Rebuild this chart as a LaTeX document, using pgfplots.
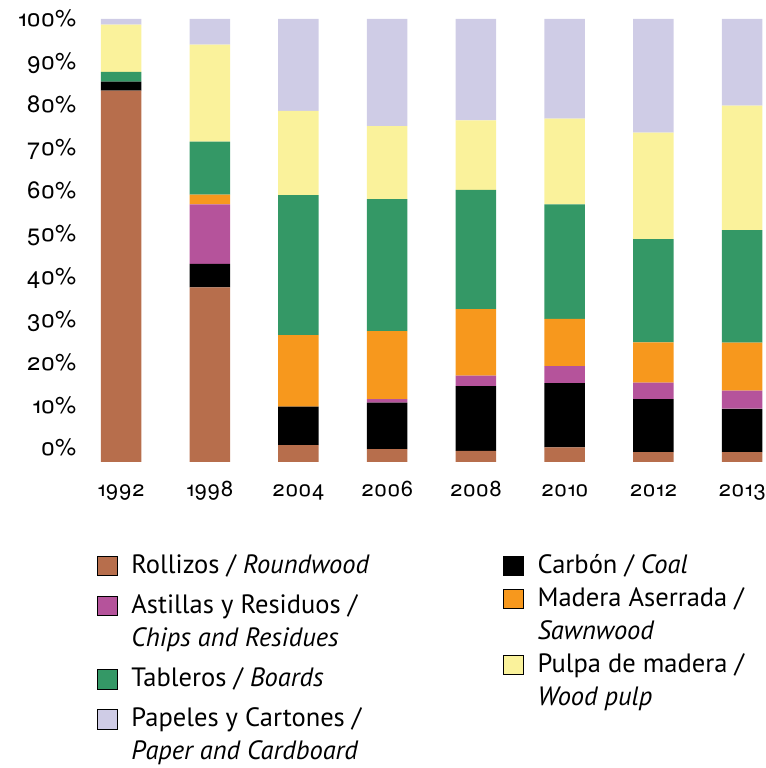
\documentclass[border=0pt]{standalone}
\usepackage{fontspec}
\setmainfont{PT Sans}
\newfontfamily\tickfont{TeX Gyre Heros}[Numbers=OldStyle]
\usepackage{pgfplots}
\usepackage{pgfplotstable}
\pgfplotsset{compat=1.18}
\definecolor{cRoll}{HTML}{B76E4C}
\definecolor{cCarb}{HTML}{000000}
\definecolor{cAst}{HTML}{B5539B}
\definecolor{cMad}{HTML}{F7981D}
\definecolor{cTab}{HTML}{349866}
\definecolor{cPul}{HTML}{FAF29B}
\definecolor{cPap}{HTML}{CFCCE6}
\pgfplotstableread{
x Roll Carb Ast Mad Tab Pul Pap
0 83.8 2.0 0.0 0.0 2.2 10.7 1.3
1 39.4 5.3 13.4 2.2 12.0 21.9 5.8
2 3.8 8.7 0.0 16.1 31.6 19.0 20.8
3 2.9 10.5 0.8 15.3 29.8 16.5 24.2
4 2.5 14.6 2.4 15.0 26.9 15.7 22.9
5 3.3 14.5 3.8 10.7 25.8 19.4 22.5
6 2.2 12.0 3.7 9.1 23.3 24.0 25.7
7 2.2 9.8 4.1 10.8 25.4 28.1 19.6
}\data
\newcommand\fst{\rule{0pt}{10bp}}
\newcommand\lst{\rule[-4bp]{0pt}{4bp}}
\newcommand\Y[1]{\mbox{\tickfont\fontsize{11.9}{13}\selectfont #1\%}}
\newcommand\X[1]{\mbox{\tickfont\fontsize{10.9}{12}\selectfont #1}}
\pgfplotsset{
  sq/.style={legend image code/.code={\fill[##1] (0bp,-1.2bp) rectangle (9.8bp,8.4bp);}},
  sqb/.style={legend image code/.code={\fill[##1] (0bp,15.3bp) rectangle (9.8bp,24.9bp);}},
  mylegend/.style={legend style={draw=none, fill=none, inner sep=0pt, outer sep=0pt,
      font=\fontsize{13.3}{16.5}\selectfont, anchor=north west,
      cells={anchor=base west, align=left, inner sep=0pt},
      /tikz/every odd column/.append style={column sep=5bp}}},
}
\begin{document}
\begin{tikzpicture}
\begin{axis}[
  at={(0,0)}, anchor=south west, scale only axis,
  width=343.7bp, height=221.5bp,
  ybar stacked, bar width=20.25bp,
  xmin=-0.5, xmax=7.25, ymin=0, ymax=100,
  axis line style={draw=none}, tick style={draw=none},
  xtick={0,...,7},
  xticklabels={\X{1992},\X{1998},\X{2004},\X{2006},\X{2008},\X{2010},\X{2012},\X{2013}},
  xticklabel style={anchor=base, yshift=-17.5bp},
  ytick={1.35,11.03,20.72,30.4,40.09,49.77,59.45,69.14,78.82,88.51,98.19},
  yticklabels={\Y{0},\Y{10},\Y{20},\Y{30},\Y{40},\Y{50},\Y{60},\Y{70},\Y{80},\Y{90},\Y{100}},
  yticklabel style={anchor=base east, inner sep=0pt},
  mylegend, legend style={at={(0.0297,-0.1975)}, row sep=4.6bp},
  clip=false,
]
\addlegendimage{sq, fill=cRoll}\addlegendentry{\fst\lst Rollizos / \textit{Roundwood}}
\addlegendimage{sqb, fill=cAst}\addlegendentry{\fst Astillas y Residuos /\\\textit{Chips and Residues}\lst}
\addlegendimage{sq, fill=cTab}\addlegendentry{\fst\lst Tableros / \textit{Boards}}
\addlegendimage{sqb, fill=cPap}\addlegendentry{\fst Papeles y Cartones /\\\textit{Paper and Cardboard}\lst}
\addplot[fill=cRoll, draw=none] table[x=x, y=Roll] {\data};
\addplot[fill=cCarb, draw=none] table[x=x, y=Carb] {\data};
\addplot[fill=cAst, draw=none] table[x=x, y=Ast] {\data};
\addplot[fill=cMad, draw=none] table[x=x, y=Mad] {\data};
\addplot[fill=cTab, draw=none] table[x=x, y=Tab] {\data};
\addplot[fill=cPul, draw=none] table[x=x, y=Pul] {\data};
\addplot[fill=cPap, draw=none] table[x=x, y=Pap] {\data};
\end{axis}
\begin{axis}[
  at={(0,0)}, anchor=south west, scale only axis,
  width=343.7bp, height=221.5bp, hide axis,
  xmin=0, xmax=1, ymin=0, ymax=1,
  mylegend, legend style={at={(0.6203,-0.1975)}, row sep=1bp},
]
\addlegendimage{sq, fill=cCarb}\addlegendentry{\fst\lst Carbón / \textit{Coal}}
\addlegendimage{sqb, fill=cMad}\addlegendentry{\fst Madera Aserrada /\\\textit{Sawnwood}\lst}
\addlegendimage{sqb, fill=cPul}\addlegendentry{\fst Pulpa de madera /\\\textit{Wood pulp}\lst}
\end{axis}
\pgfresetboundingbox
\path (-38.33bp,-153bp) rectangle (344.2bp,230.9bp);
\end{tikzpicture}
\end{document}
